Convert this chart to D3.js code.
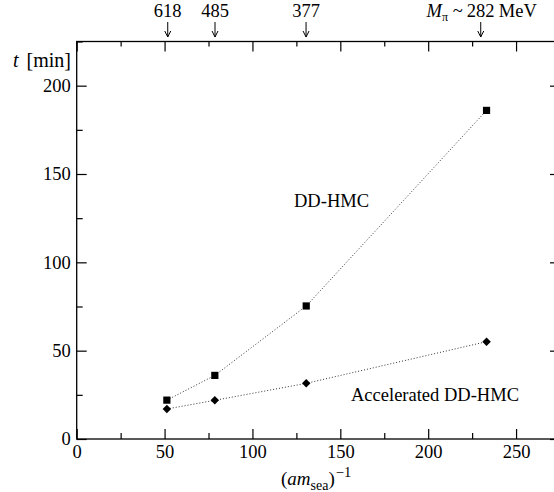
<!DOCTYPE html>
<html>
<head>
<meta charset="utf-8">
<script src="https://d3js.org/d3.v7.min.js"></script>
<style>
body { margin: 0; background: #fff; }
svg text { font-family: "Liberation Serif", "Times New Roman", serif; font-size: 18.5px; fill: #000; }
.axis path { stroke: #000; stroke-width: 1.3px; }
.axis line { stroke: #000; stroke-width: 1.2px; }
.link { fill: none; stroke: #333; stroke-width: 1px; stroke-dasharray: 1,2; }
</style>
</head>
<body>
<svg class="chart"></svg>
<script>
// data
const invMass = [51.3, 78.6, 130.6, 233.2]          // (a m_sea)^-1
const ddhmc = [22, 36, 75.3, 186]                   // t [min], DD-HMC
const accel = [17, 21.9, 31.5, 55.1]                // t [min], accelerated
const pionX = [51.8, 78.7, 130.5, 229.9]            // arrow positions
const pionMass = ['618', '485', '377', '282']
const xMajor = [0, 50, 100, 150, 200, 250]
const xMinor = [25, 75, 125, 175, 225, 275]
const yMajor = [0, 50, 100, 150, 200]
const yMinor = [25, 75, 125, 175, 225]

const w = 554, h = 492
const svg = d3.select('.chart').attr('width', w).attr('height', h)

const x = d3.scaleLinear().domain([0, 275]).range([76.7, 560])
const y = d3.scaleLinear().domain([0, 225]).range([439, 41.5])

// frame with inward ticks
function ticks(axisFn, scale, vals, size, tr, labels) {
    let a = axisFn(scale).tickValues(vals).tickSize(-size).tickPadding(labels ? 6 : 0)
    if (!labels) a.tickFormat('')
    let g = svg.append('g').attr('class', 'axis').attr('transform', tr).call(a)
    g.select('path').remove()
    return g
}
let trBot = 'translate(0,' + y(0) + ')', trTop = 'translate(0,' + y(225) + ')'
let trLft = 'translate(' + x(0) + ',0)', trRgt = 'translate(' + x(275) + ',0)'
ticks(d3.axisBottom, x, xMajor, 10, trBot, true)
ticks(d3.axisBottom, x, xMinor, 6, trBot, false)
ticks(d3.axisTop, x, xMajor, 10, trTop, false)
ticks(d3.axisTop, x, xMinor, 5, trTop, false)
ticks(d3.axisLeft, y, yMajor, 10, trLft, true)
ticks(d3.axisLeft, y, yMinor, 6, trLft, false)
ticks(d3.axisRight, y, yMajor, 10, trRgt, false)
ticks(d3.axisRight, y, yMinor, 6, trRgt, false)

svg.append('rect').attr('x', x(0)).attr('y', y(225))
    .attr('width', x(275) - x(0)).attr('height', y(0) - y(225))
    .style('fill', 'none').style('stroke', '#000').style('stroke-width', 1.3)

// series
const line = d3.line().x(d => x(d[0])).y(d => y(d[1]))
const sq = invMass.map((v, i) => [v, ddhmc[i]])
const di = invMass.map((v, i) => [v, accel[i]])
svg.append('path').attr('class', 'link').attr('d', line(sq))
svg.append('path').attr('class', 'link').attr('d', line(di))

svg.append('g').selectAll('rect').data(sq).enter().append('rect')
    .attr('x', d => x(d[0]) - 3.6).attr('y', d => y(d[1]) - 3.6)
    .attr('width', 7.2).attr('height', 7.2).style('fill', '#000')

svg.append('g').selectAll('path').data(di).enter().append('path')
    .attr('d', d3.symbol().type(d3.symbolDiamond2).size(46))
    .attr('transform', d => 'translate(' + x(d[0]) + ',' + y(d[1]) + ')')
    .style('fill', '#000')

// pion mass arrows on top
let arr = svg.append('g')
pionX.forEach(function (v, i) {
    let px = x(v)
    arr.append('line').attr('x1', px).attr('x2', px).attr('y1', 22).attr('y2', 37)
        .style('stroke', '#000').style('stroke-width', 1)
    arr.append('path').attr('d', 'M' + (px - 3) + ',31L' + px + ',37L' + (px + 3) + ',31')
        .style('fill', 'none').style('stroke', '#000').style('stroke-width', 1)
    arr.append('text').attr('x', px).attr('y', 17).attr('text-anchor', 'middle').text(pionMass[i])
})
let mx = x(pionX[3])
let mt = svg.append('text').attr('x', mx - 18).attr('y', 17).attr('text-anchor', 'end')
mt.append('tspan').style('font-style', 'italic').text('M')
mt.append('tspan').attr('dy', 4).style('font-size', '12px').text('π')
mt.append('tspan').attr('dy', -4).text(' ~')
svg.append('text').attr('x', mx + 18).attr('y', 17).text('MeV')

// labels
let tl = svg.append('text').attr('x', 71).attr('y', 67).attr('text-anchor', 'end')
    .style('font-size', '20px')
tl.append('tspan').style('font-style', 'italic').text('t')
tl.append('tspan').attr('dx', 3).text(' [min]')

svg.append('text').attr('x', 294).attr('y', 207).text('DD-HMC')
svg.append('text').attr('x', 351).attr('y', 401).text('Accelerated DD-HMC')

let xl = svg.append('text').attr('x', 281).attr('y', 485).style('font-size', '19px')
xl.append('tspan').text('(')
xl.append('tspan').style('font-style', 'italic').text('am')
xl.append('tspan').attr('dy', 5).style('font-size', '14px').text('sea')
xl.append('tspan').attr('dy', -5).text(')')
xl.append('tspan').attr('dy', -8).attr('dx', 1).style('font-size', '14.5px').text('−1')
</script>
</body>
</html>
